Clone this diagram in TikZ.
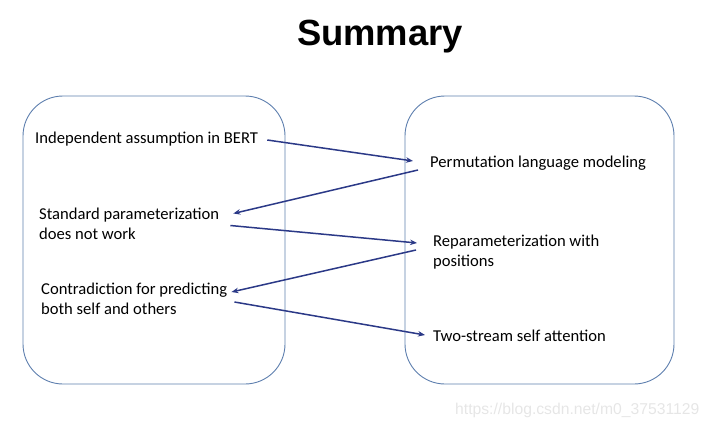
\documentclass[tikz,border=0pt]{standalone}
\usepackage{fontspec}
\setmainfont{Carlito}
\newfontfamily\titlefont{Liberation Sans}
\usetikzlibrary{arrows.meta}
\definecolor{boxblue}{HTML}{5E7FAE}
\definecolor{arrownavy}{HTML}{2B3987}
\definecolor{wmgray}{HTML}{E6E6E6}
\tikzset{
  panel/.style={draw=boxblue, line width=0.9pt, rounded corners=40pt},
  label/.style={anchor=west, inner sep=0pt, align=left, font=\fontsize{16.6}{20}\selectfont},
  link/.style={draw=arrownavy, line width=1.5pt, -{Stealth[length=7pt,width=5.5pt]}}
}
\begin{document}
\begin{tikzpicture}[x=1pt,y=-1pt]
\useasboundingbox (0,0) rectangle (712,428);
\node[anchor=base, inner sep=0pt, font=\titlefont\bfseries\fontsize{36.4}{40}\selectfont] (title) at (380,45.5) {Summary};
\draw[panel] (23,96) rectangle (285,384);
\draw[panel] (405,96) rectangle (674,384);
\node[label] (ind) at (35,139) {Independent assumption in BERT};
\node[label] (std) at (39,223.5) {Standard parameterization\\does not work};
\node[label] (con) at (41,299) {Contradiction for predicting\\both self and others};
\node[label] (perm) at (430,163) {Permutation language modeling};
\node[label] (rep) at (433,252) {Reparameterization with\\positions};
\node[label] (two) at (433,336) {Two-stream self attention};
\draw[link] ([shift={(9,1)}]ind.east) -- ([shift={(-17,-2)}]perm.west);
\draw[link] ([shift={(-12,7)}]perm.west) -- ([shift={(14,-10)}]std.east);
\draw[link] ([shift={(11,2)}]std.east) -- ([shift={(-16,-9)}]rep.west);
\draw[link] ([shift={(-17,-2)}]rep.west) -- ([shift={(4,-7)}]con.east);
\draw[link] ([shift={(7,3)}]con.east) -- ([shift={(-8,-1)}]two.west);
\node[anchor=west, inner sep=0pt, text=wmgray, font=\titlefont\fontsize{15.7}{18}\selectfont] (wm) at (455,410) {https://blog.csdn.net/m0\_37531129};
\end{tikzpicture}
\end{document}
